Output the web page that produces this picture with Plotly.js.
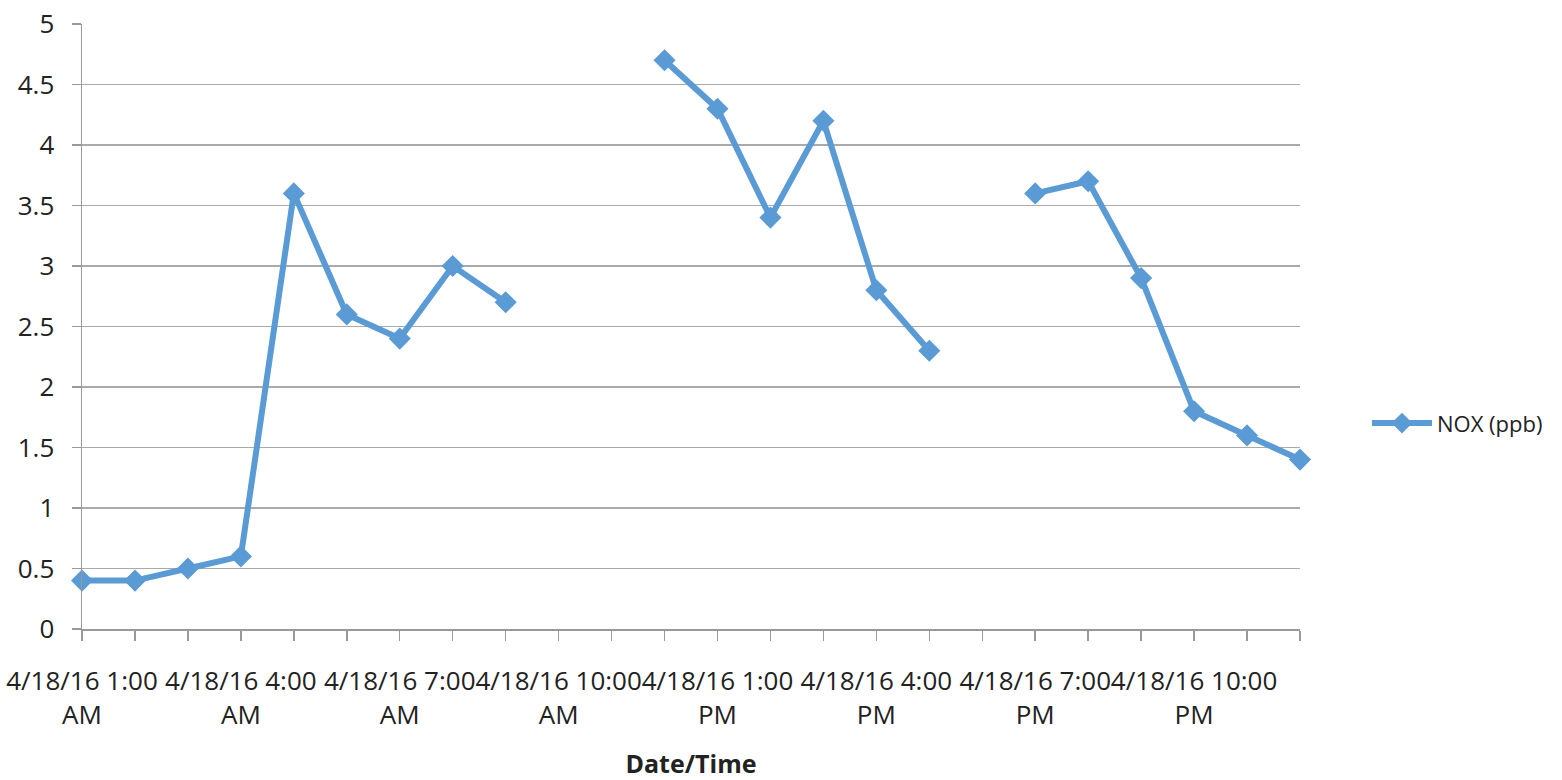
<!DOCTYPE html>
<html>
<head>
<meta charset="utf-8">
<script src="https://cdn.plot.ly/plotly-3.0.1.min.js"></script>
<style>html,body{margin:0;padding:0;background:#fff;}#chart{width:1562px;height:780px;}</style>
</head>
<body>
<div id="chart"></div>
<script>
const categories = [
  "4/18/16 1:00 AM","4/18/16 2:00 AM","4/18/16 3:00 AM","4/18/16 4:00 AM",
  "4/18/16 5:00 AM","4/18/16 6:00 AM","4/18/16 7:00 AM","4/18/16 8:00 AM",
  "4/18/16 9:00 AM","4/18/16 10:00 AM","4/18/16 11:00 AM","4/18/16 12:00 PM",
  "4/18/16 1:00 PM","4/18/16 2:00 PM","4/18/16 3:00 PM","4/18/16 4:00 PM",
  "4/18/16 5:00 PM","4/18/16 6:00 PM","4/18/16 7:00 PM","4/18/16 8:00 PM",
  "4/18/16 9:00 PM","4/18/16 10:00 PM","4/18/16 11:00 PM","4/19/16 12:00 AM"
];
const noxValues = [0.4,0.4,0.5,0.6,3.6,2.6,2.4,3.0,2.7,null,null,4.7,4.3,3.4,4.2,2.8,2.3,null,3.6,3.7,2.9,1.8,1.6,1.4];
const tickLabels = {
  "4/18/16 1:00 AM":"4/18/16 1:00<br>AM",
  "4/18/16 4:00 AM":"4/18/16 4:00<br>AM",
  "4/18/16 7:00 AM":"4/18/16 7:00<br>AM",
  "4/18/16 10:00 AM":"4/18/16 10:00<br>AM",
  "4/18/16 1:00 PM":"4/18/16 1:00<br>PM",
  "4/18/16 4:00 PM":"4/18/16 4:00<br>PM",
  "4/18/16 7:00 PM":"4/18/16 7:00<br>PM",
  "4/18/16 10:00 PM":"4/18/16 10:00<br>PM"
};
const seriesName = "NOX (ppb)";
const xTitle = "Date/Time";

const ticktext = categories.map(c => tickLabels[c] || "");

const fontFam = "Open Sans, Liberation Sans, sans-serif";
const trace = {
  x: categories, y: noxValues, type: "scatter", mode: "lines+markers",
  name: seriesName, connectgaps: false, cliponaxis: false,
  line: {color: "#5B9BD5", width: 6},
  marker: {symbol: "diamond", size: 17, color: "#5B9BD5"}
};
const layout = {
  width: 1562, height: 780,
  paper_bgcolor: "#fff", plot_bgcolor: "#fff",
  margin: {l: 82, r: 262, t: 24, b: 151, autoexpand: false},
  font: {family: fontFam, size: 24, color: "#222"},
  showlegend: true,
  legend: {x: 1.055, y: 0.34, xanchor: "left", yanchor: "middle", itemwidth: 60,
           font: {size: 22, color: "#222"}, bgcolor: "rgba(0,0,0,0)"},
  xaxis: {
    type: "category", categoryorder: "array", categoryarray: categories,
    range: [0, categories.length - 1],
    tickmode: "array", tickvals: categories, ticktext: ticktext,
    tickangle: 0, ticks: "outside", ticklen: 10, tickcolor: "#999", tickwidth: 1.5,
    showline: true, linecolor: "#999", linewidth: 1.5, showgrid: false, zeroline: false,
    ticklabelstandoff: 18,
    tickfont: {size: 26, color: "#222"},
    title: {text: "<b>" + xTitle + "</b>", font: {size: 25, color: "#222"}, standoff: 26}
  },
  yaxis: {
    range: [0, 5], dtick: 0.5, tick0: 0,
    ticks: "outside", ticklen: 9, tickcolor: "#999", tickwidth: 1.5,
    showline: true, linecolor: "#999", linewidth: 1.5,
    showgrid: true, gridcolor: "#aaa", gridwidth: 1.5, zeroline: false,
    ticklabelstandoff: 12,
    tickfont: {size: 26, color: "#222"}
  }
};
Plotly.newPlot("chart", [trace], layout, {displayModeBar: false, staticPlot: true});
</script>
</body>
</html>
